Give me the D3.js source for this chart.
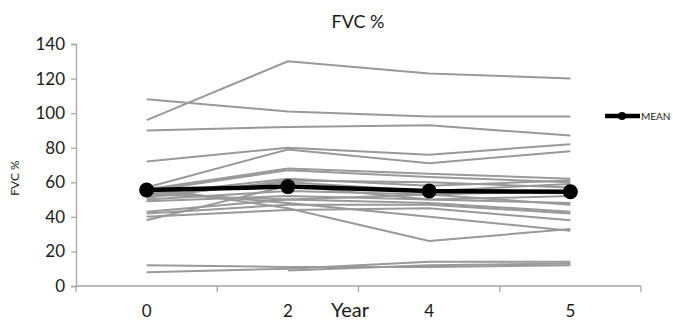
<!DOCTYPE html>
<html>
<head>
<meta charset="utf-8">
<script src="https://cdn.jsdelivr.net/npm/d3@7"></script>
<style>
  html, body { margin: 0; padding: 0; background: #fff; }
  svg { display: block; }
  text { font-family: Lato, "Liberation Sans", sans-serif; fill: #1a1a1a; }
</style>
</head>
<body>
<svg id="chart" width="673" height="323"></svg>
<script>
const years = ["0", "2", "4", "5"];
const yTicks = [0, 20, 40, 60, 80, 100, 120, 140];
const patient01 = [96, 130, 123, 120];
const patient02 = [108, 101, 98, 98];
const patient03 = [90, 92, 93, 87];
const patient04 = [72, 80, 76, 82];
const patient05 = [57, 79, 71, 78];
const patient06 = [56, 68, 65, 62];
const patient07 = [55, 67, 63, 60];
const patient08 = [53, 62, 58, 61];
const patient09 = [52, 60, 55, 59];
const patient10 = [51, 61, 60, 57];
const patient11 = [50, 55, 53, 55];
const patient12 = [49, 52, 50, 52];
const patient13 = [57, 45, 26, 33];
const patient14 = [55, 48, 40, 32];
const patient15 = [43, 50, 48, 43];
const patient16 = [42, 47, 47, 42];
const patient17 = [40, 44, 45, 38];
const patient18 = [38, 58, 50, 48];
const patient19 = [53, 50, 53, 47];
const patient20 = [12, 11, 11, 12];
const patient21 = [8, 10, 14, 14];
const patient22 = [null, 9, 12, 13];
const meanValues = [55.5, 57.5, 55, 54.5];

const patients = [patient01, patient02, patient03, patient04, patient05, patient06,
  patient07, patient08, patient09, patient10, patient11, patient12, patient13,
  patient14, patient15, patient16, patient17, patient18, patient19, patient20,
  patient21, patient22];

const svg = d3.select("#chart");
const plotLeft = 76, plotRight = 641, plotTop = 44, plotBottom = 286;

const x = d3.scaleBand().domain(years).range([plotLeft, plotRight]).paddingInner(0).paddingOuter(0);
const y = d3.scaleLinear().domain([0, 140]).range([plotBottom, plotTop]);
const cx = d => x(d) + x.bandwidth() / 2;

const axisColor = "#a6a6a6";

// Y axis
const yAxis = svg.append("g").attr("transform", `translate(${plotLeft},0)`)
  .call(d3.axisLeft(y).tickValues(yTicks).tickSize(5).tickPadding(6));
yAxis.select(".domain").attr("stroke", axisColor).attr("stroke-width", 1.3);
yAxis.selectAll(".tick line").attr("stroke", axisColor).attr("stroke-width", 1.3);
yAxis.selectAll(".tick text").attr("font-size", 17).attr("font-family", "Lato, 'Liberation Sans', sans-serif").attr("fill", "#1a1a1a");

// X axis: ticks at category boundaries
const xg = svg.append("g").attr("transform", `translate(0,${plotBottom})`);
xg.append("line").attr("x1", plotLeft).attr("x2", plotRight).attr("y1", 0).attr("y2", 0)
  .attr("stroke", axisColor).attr("stroke-width", 1.3);
const boundaries = years.map(d => x(d)).concat([x(years[years.length - 1]) + x.bandwidth()]);
xg.selectAll("line.tk").data(boundaries).enter().append("line").attr("class", "tk")
  .attr("x1", d => d).attr("x2", d => d).attr("y1", 0).attr("y2", 6)
  .attr("stroke", axisColor).attr("stroke-width", 1.3);
xg.selectAll("text.lbl").data(years).enter().append("text").attr("class", "lbl")
  .attr("x", d => cx(d)).attr("y", 31).attr("text-anchor", "middle")
  .attr("font-size", 17).text(d => d);

// Patient lines
const line = d3.line().defined(d => d.v != null).x(d => cx(d.yr)).y(d => y(d.v));
svg.append("g").selectAll("path").data(patients).enter().append("path")
  .attr("d", s => line(s.map((v, i) => ({ yr: years[i], v }))))
  .attr("fill", "none").attr("stroke", "#999999").attr("stroke-width", 2);

// Mean line
const meanData = meanValues.map((v, i) => ({ yr: years[i], v }));
svg.append("path").attr("d", line(meanData)).attr("fill", "none")
  .attr("stroke", "#000").attr("stroke-width", 4.5);
svg.append("g").selectAll("circle").data(meanData).enter().append("circle")
  .attr("cx", d => cx(d.yr)).attr("cy", d => y(d.v)).attr("r", 7.5).attr("fill", "#000");

// Titles
svg.append("text").attr("x", 358).attr("y", 28).attr("text-anchor", "middle")
  .attr("font-size", 18).text("FVC %");
svg.append("text").attr("transform", "translate(19,178) rotate(-90)")
  .attr("text-anchor", "middle").attr("font-size", 12).text("FVC %");
svg.append("text").attr("x", 350).attr("y", 317).attr("text-anchor", "middle")
  .attr("font-size", 20).text("Year");

// Legend
const lg = svg.append("g");
lg.append("line").attr("x1", 605).attr("x2", 640).attr("y1", 116).attr("y2", 116)
  .attr("stroke", "#000").attr("stroke-width", 4.5);
lg.append("circle").attr("cx", 622).attr("cy", 116).attr("r", 4).attr("fill", "#000");
lg.append("text").attr("x", 641).attr("y", 120).attr("font-size", 10).text("MEAN");
</script>
</body>
</html>
